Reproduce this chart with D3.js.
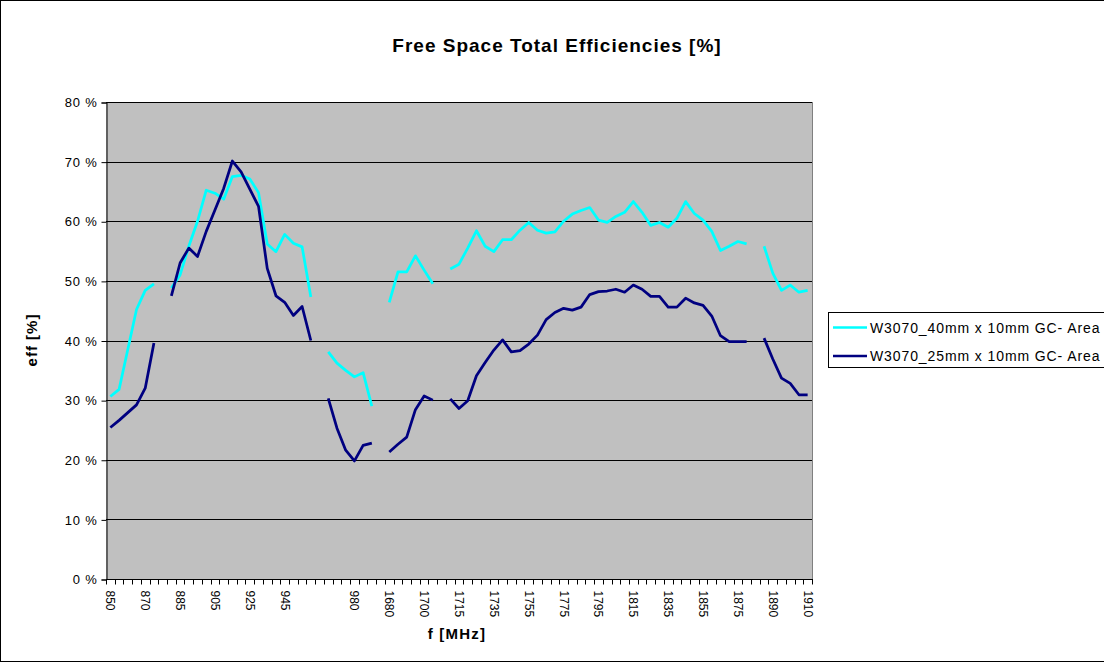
<!DOCTYPE html>
<html><head><meta charset="utf-8">
<script src="https://cdn.jsdelivr.net/npm/d3@7"></script>
<style>body{margin:0;background:#fff}svg{display:block}</style>
</head><body>
<svg id="c" width="1104" height="663"></svg>
<script>
const categories = ["850","855","860","865","870","875","","880","885","890","895","900","905","910","915","920","925","930","935","940","945","950","955","960","","965","970","975","980","985","990","","1680","1685","1690","1695","1700","1705","","1710","1715","1720","1725","1730","1735","1740","1745","1750","1755","1760","1765","1770","1775","1780","1785","1790","1795","1800","1805","1810","1815","1820","1825","1830","1835","1840","1845","1850","1855","1860","1865","1870","1875","1880","","1885","1890","1895","1900","1905","1910"];
const eff40 = [30.6,31.8,38.5,45.2,48.4,49.5,null,
  48.8,51.0,55.8,60.0,65.2,64.7,63.7,67.5,67.7,67.1,64.8,56.2,54.9,57.8,56.3,55.7,47.3,null,
  38.1,36.2,35.0,33.9,34.6,29.0,null,
  46.4,51.5,51.5,54.2,51.8,49.5,null,
  52.0,52.8,55.5,58.4,55.8,54.9,56.9,56.9,58.5,59.8,58.5,58.0,58.2,60.0,61.2,61.8,62.3,60.2,59.8,60.8,61.5,63.3,61.5,59.3,59.8,59.0,60.5,63.3,61.3,60.2,58.3,55.1,55.8,56.6,56.2,null,
  55.8,51.3,48.4,49.3,48.1,48.4];
const eff25 = [25.4,26.6,27.9,29.2,32.0,39.6,null,
  47.5,53.0,55.5,54.1,58.3,61.9,65.5,70.1,68.3,65.4,62.5,52.1,47.5,46.4,44.2,45.7,40.0,null,
  30.3,25.3,21.6,19.8,22.4,22.8,null,
  21.3,22.6,23.8,28.4,30.7,30.0,null,
  30.2,28.6,29.9,34.1,36.3,38.4,40.1,38.1,38.3,39.4,40.9,43.5,44.7,45.4,45.1,45.6,47.7,48.2,48.3,48.6,48.1,49.3,48.6,47.4,47.4,45.6,45.6,47.1,46.3,45.9,44.1,40.8,39.8,39.8,39.8,null,
  40.4,36.9,33.7,32.8,30.9,30.9];
const seriesNames = ["W3070_40mm x 10mm GC- Area","W3070_25mm x 10mm GC- Area"];
const seriesColors = ["#00ffff","#000080"];
const yTicks = [0,10,20,30,40,50,60,70,80];
const title = "Free Space Total Efficiencies [%]";
const xTitle = "f [MHz]";
const yTitle = "eff [%]";

const svg = d3.select("#c");
const font = "Liberation Sans, Arial, sans-serif";
const L = 106, R = 812, T = 102, B = 579;

svg.append("rect").attr("x",0.5).attr("y",0.5).attr("width",1200).attr("height",661)
  .attr("fill","#fff").attr("stroke","#000").attr("stroke-width",1);

const x = d3.scaleBand().domain(d3.range(categories.length)).range([L,R]).padding(0);
const y = d3.scaleLinear().domain([0,80]).range([B,T]);

svg.append("rect").attr("x",L).attr("y",T).attr("width",R-L).attr("height",B-T).attr("fill","#c0c0c0");

// gridlines
svg.append("g").selectAll("line").data(yTicks.filter(d=>d>0)).join("line")
  .attr("x1",L).attr("x2",R).attr("y1",d=>Math.round(y(d))+0.5).attr("y2",d=>Math.round(y(d))+0.5)
  .attr("stroke","#000").attr("stroke-width",1);
svg.append("line").attr("x1",R+0.5).attr("x2",R+0.5).attr("y1",T).attr("y2",B).attr("stroke","#808080");

// y axis
const yAxis = d3.axisLeft(y).tickValues(yTicks).tickSize(5).tickFormat(d=>d+" %");
const gy = svg.append("g").attr("transform",`translate(${L+0.5},0.5)`).call(yAxis);
gy.select(".domain").attr("stroke","#000");
gy.selectAll(".tick line").attr("stroke","#000");
gy.selectAll("text").attr("font-family",font).attr("font-size",13).attr("letter-spacing",0.8)
  .attr("fill","#000").attr("x",-9);

// x axis
const gx = svg.append("g").attr("transform",`translate(0,${B+0.5})`);
gx.append("line").attr("x1",L).attr("x2",R+1).attr("stroke","#000");
gx.selectAll("line.tk").data(d3.range(categories.length+1)).join("line").attr("class","tk")
  .attr("x1",i=>Math.round(L + i*x.step())+0.5).attr("x2",i=>Math.round(L + i*x.step())+0.5)
  .attr("y1",0).attr("y2",5).attr("stroke","#000");
gx.selectAll("text").data(d3.range(categories.length).filter(i=>i%4===0 && categories[i]!=="")).join("text")
  .attr("transform",i=>`translate(${x(i)+x.bandwidth()/2-4},11) rotate(90)`)
  .attr("font-family",font).attr("font-size",12).attr("fill","#000")
  .text(i=>categories[i]);

// lines
const line = d3.line().defined(d=>d!=null).x((d,i)=>x(i)+x.bandwidth()/2).y(d=>y(d));
[eff40,eff25].forEach((s,k)=>{
  svg.append("path").datum(s).attr("d",line).attr("fill","none")
    .attr("stroke",seriesColors[k]).attr("stroke-width",2.75).attr("stroke-linejoin","round");
});

// titles
svg.append("text").attr("x",557).attr("y",52).attr("text-anchor","middle")
  .attr("font-family",font).attr("font-weight","bold").attr("font-size",19).attr("letter-spacing",1)
  .text(title);
svg.append("text").attr("x",457).attr("y",639).attr("text-anchor","middle")
  .attr("font-family",font).attr("font-weight","bold").attr("font-size",15).attr("letter-spacing",1.2)
  .text(xTitle);
svg.append("text").attr("transform","translate(37,340) rotate(-90)").attr("text-anchor","middle")
  .attr("font-family",font).attr("font-weight","bold").attr("font-size",15).attr("letter-spacing",1)
  .text(yTitle);

// legend
const lg = svg.append("g");
lg.append("rect").attr("x",828.5).attr("y",312.5).attr("width",300).attr("height",55)
  .attr("fill","#fff").attr("stroke","#000");
seriesNames.forEach((n,k)=>{
  const yy = 327.5 + k*28.5;
  lg.append("line").attr("x1",833).attr("x2",867).attr("y1",yy).attr("y2",yy)
    .attr("stroke",seriesColors[k]).attr("stroke-width",2.5);
  lg.append("text").attr("x",870).attr("y",yy+5).attr("font-family",font).attr("font-size",14)
    .attr("letter-spacing",0.9).text(n);
});
</script>
</body></html>
